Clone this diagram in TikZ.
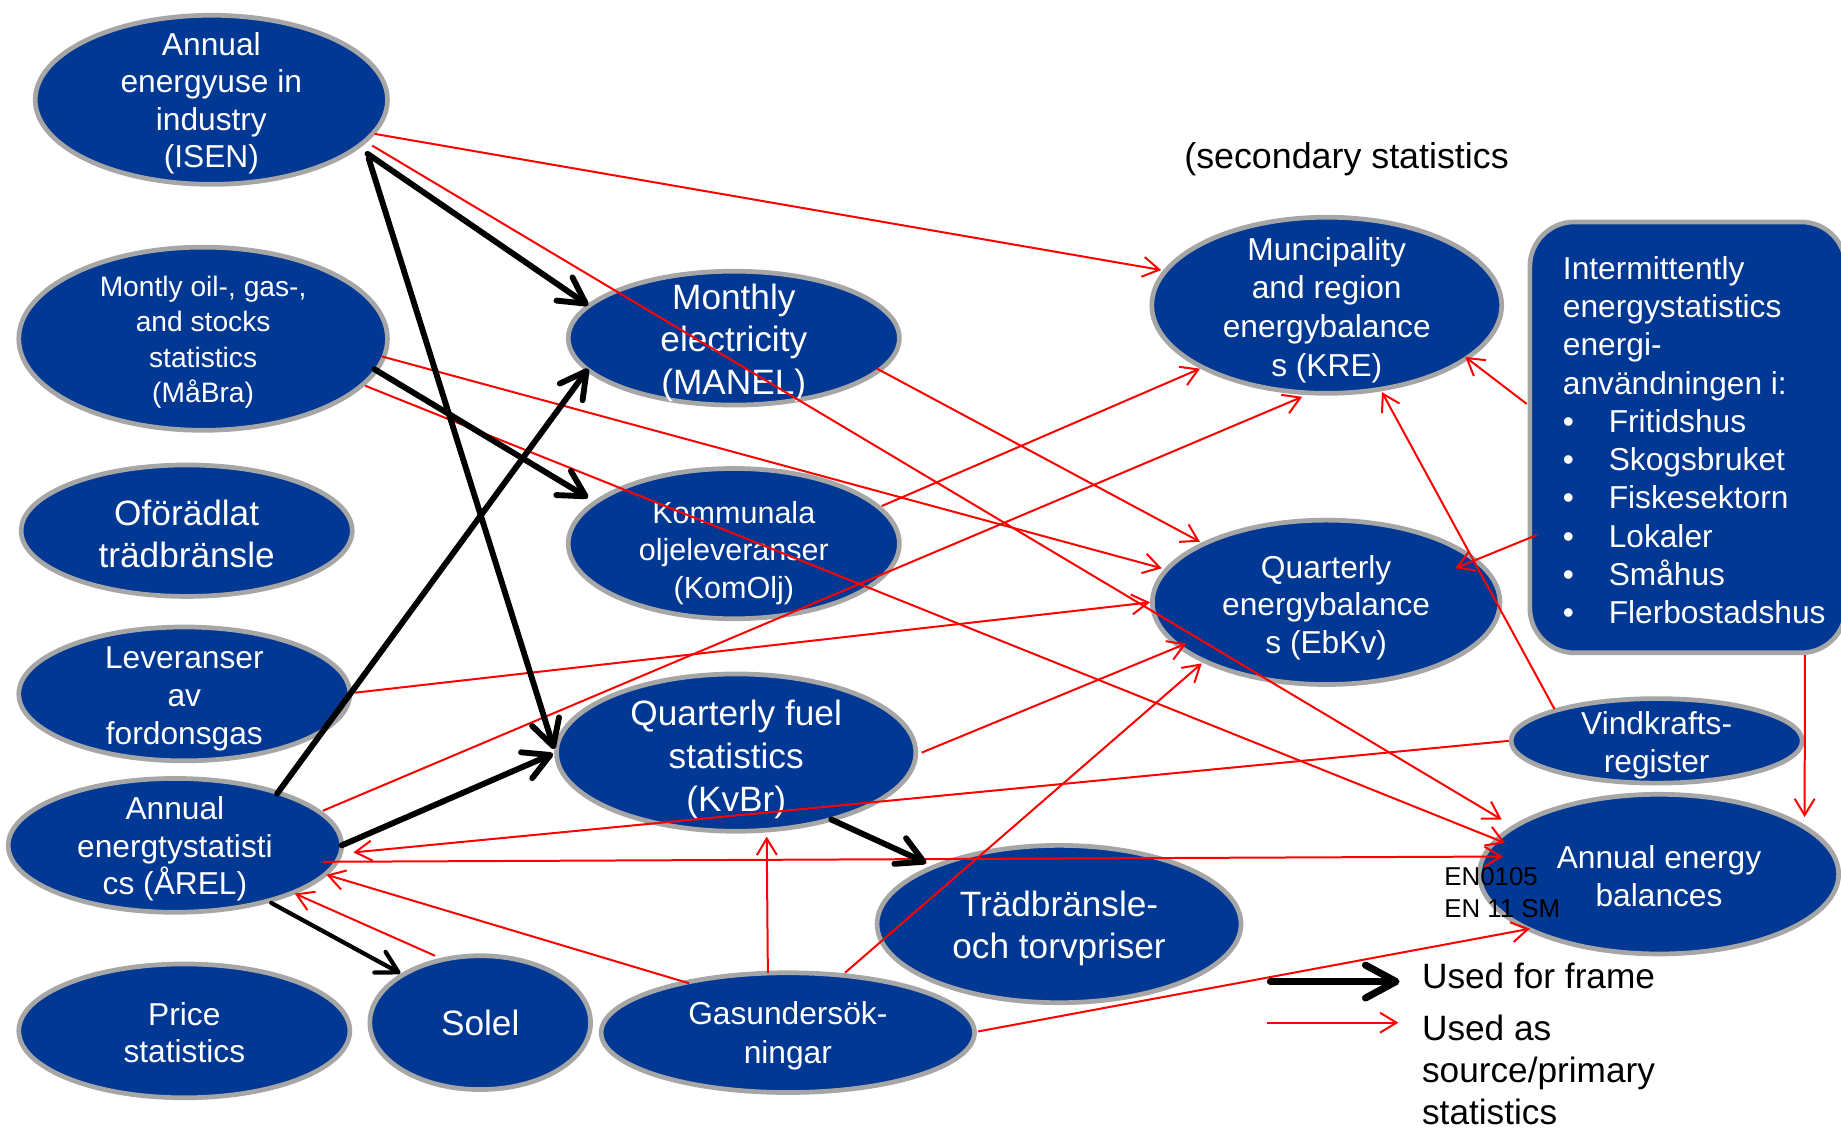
\documentclass[tikz,border=0pt]{standalone}
\usepackage{fontspec}
\setmainfont{Liberation Sans}
\usetikzlibrary{shapes.geometric,arrows.meta,calc}
\definecolor{nodeblue}{RGB}{0,56,147}
\definecolor{bordergray}{RGB}{166,166,166}
\newcommand{\myfs}[2]{\fontsize{#1}{#2}\selectfont}
\newcommand{\bul}{\makebox[39pt][l]{\textbullet}}
\begin{document}
\begin{tikzpicture}[x=1pt,y=-1pt,
  ell/.style={ellipse, draw=bordergray, line width=4pt, fill=nodeblue, inner sep=0pt},
  wt/.style={text=white, align=center, inner sep=0pt},
  lt/.style={text=black, inner sep=0pt},
  srcarr/.style={draw=red, line width=1.7pt, -{Straight Barb[length=14pt,width=17pt]}},
  frmarr/.style={draw=black, line width=5pt, line cap=round, -{Straight Barb[length=22pt,width=24pt,round]}},
  thinfrm/.style={draw=black, line width=3.6pt, line cap=round, -{Straight Barb[length=18pt,width=20pt,round]}},
  legfrm/.style={draw=black, line width=6pt, line cap=round, -{Straight Barb[length=26pt,width=28pt,round]}}
]
\fill[white] (0,0) rectangle (1568,961.6);
\useasboundingbox (0,0) rectangle (1568,961.6);

% ellipses
\node[ell, minimum width=300pt, minimum height=144pt] (isen) at (180,85) {};
\node[ell, minimum width=314pt, minimum height=156pt] (mabra) at (173,288.5) {};
\node[ell, minimum width=282pt, minimum height=112pt] (ofor) at (159,452) {};
\node[ell, minimum width=282pt, minimum height=114pt] (lev) at (157,591) {};
\node[ell, minimum width=284pt, minimum height=114pt] (arel) at (149,720) {};
\node[ell, minimum width=282pt, minimum height=114pt] (price) at (157,878) {};
\node[ell, minimum width=188pt, minimum height=114pt] (solel) at (409,871) {};
\node[ell, minimum width=318pt, minimum height=102pt] (gas) at (671,879.5) {};
\node[ell, minimum width=282pt, minimum height=114pt] (manel) at (625,288) {};
\node[ell, minimum width=282pt, minimum height=128pt] (komolj) at (625,463) {};
\node[ell, minimum width=306pt, minimum height=134pt] (kvbr) at (627,641) {};
\node[ell, minimum width=310pt, minimum height=134pt] (trad) at (902,787) {};
\node[ell, minimum width=298pt, minimum height=150pt] (kre) at (1130,260) {};
\node[ell, minimum width=296pt, minimum height=140pt] (ebkv) at (1129.5,513) {};
\node[ell, minimum width=248pt, minimum height=72pt] (vind) at (1411,631) {};
\node[ell, minimum width=306pt, minimum height=136pt] (aeb) at (1413,744.5) {};
\node[draw=bordergray, line width=4pt, fill=nodeblue, rounded corners=38pt, inner sep=0pt,
      minimum width=269pt, minimum height=367pt] (box) at (1437.5,372.5) {};

% texts in nodes
\node[wt, font=\myfs{27}{32}] (isen-t) at ($(isen)+(0,3)$) {Annual\\energyuse in\\industry\\(ISEN)};
\node[wt, font=\myfs{24}{30}] (mabra-t) at ($(mabra)+(0,3)$) {Montly oil-, gas-,\\and stocks\\statistics\\(MåBra)};
\node[wt, font=\myfs{30}{36}] (ofor-t) at ($(ofor)+(0,3)$) {Oförädlat\\trädbränsle};
\node[wt, font=\myfs{27}{32.5}] (lev-t) at ($(lev)+(0,4)$) {Leveranser\\av\\fordonsgas};
\node[wt, font=\myfs{27}{32}] (arel-t) at ($(arel)+(0,3)$) {Annual\\energtystatisti\\cs (ÅREL)};
\node[wt, font=\myfs{27}{32}] (price-t) at ($(price)+(0,1.5)$) {Price\\statistics};
\node[wt, font=\myfs{30}{36}] (solel-t) at (solel) {Solel};
\node[wt, font=\myfs{27}{33}] (gas-t) at ($(gas)+(0,3)$) {Gasundersök-\\ningar};
\node[wt, font=\myfs{30}{36}] (manel-t) at ($(manel)+(0,4)$) {Monthly\\electricity\\(MANEL)};
\node[wt, font=\myfs{26}{32}] (komolj-t) at ($(komolj)+(0,8)$) {Kommunala\\oljeleveranser\\(KomOlj)};
\node[wt, font=\myfs{30}{36.5}] (kvbr-t) at ($(kvbr)+(0,5.5)$) {Quarterly fuel\\statistics\\(KvBr)};
\node[wt, font=\myfs{30}{36}] (trad-t) at ($(trad)+(0,4)$) {Trädbränsle-\\och torvpriser};
\node[wt, font=\myfs{27}{33}] (kre-t) at ($(kre)+(0,4)$) {Muncipality\\and region\\energybalance\\s (KRE)};
\node[wt, font=\myfs{27}{32}] (ebkv-t) at ($(ebkv)+(0,4.5)$) {Quarterly\\energybalance\\s (EbKv)};
\node[wt, font=\myfs{27}{32}] (vind-t) at ($(vind)+(0,4)$) {Vindkrafts-\\register};
\node[wt, font=\myfs{27}{32}] (aeb-t) at ($(aeb)+(0,1.5)$) {Annual energy\\balances};
\node[wt, align=left, anchor=north west, font=\myfs{27}{32.6}] (box-t) at (1331,218)
  {Intermittently\\energystatistics\\energi-\\användningen i:\\\bul Fritidshus\\\bul Skogsbruket\\\bul Fiskesektorn\\\bul Lokaler\\\bul Småhus\\\bul Flerbostadshus};

% free texts
\node[lt, anchor=base west, font=\myfs{30.5}{36}] (sec) at (1008.5,143.5) {(secondary statistics};
\node[lt, anchor=north west, align=left, font=\myfs{22}{27}] (en) at (1230,739) {EN0105\\EN 11 SM};
\node[lt, anchor=base west, font=\myfs{30}{36}] (leg1) at (1211,841.8) {Used for frame};
\node[lt, anchor=north west, align=left, font=\myfs{30}{36}] (leg2) at (1211,864) {Used as\\source/primary\\statistics};

% legend arrows
\coordinate (lb1) at (1082,836);
\coordinate (lb2) at (1192,836);
\coordinate (lr1) at (1079,871);
\coordinate (lr2) at (1191,871);

% red arrows (source / primary statistics)
\draw[srcarr] ($(isen)+(139,29)$) -- ($(kre)+(-141,-30)$);
\draw[srcarr] ($(isen)+(137,39)$) -- ($(aeb)+(-134,-46.5)$);
\draw[srcarr] ($(mabra)+(152,15)$) -- ($(ebkv)+(-140,-29)$);
\draw[srcarr] ($(mabra)+(138,40)$) -- ($(aeb)+(-131,-26.5)$);
\draw[srcarr] ($(manel)+(122,26)$) -- ($(ebkv)+(-107.5,-51.6)$);
\draw[srcarr] ($(komolj)+(126,-32)$) -- ($(kre)+(-108,54)$);
\draw[srcarr] ($(lev)+(145,-1)$) -- ($(ebkv)+(-150,0)$);
\draw[srcarr] ($(arel)+(126,-29.5)$) -- ($(kre)+(-21,78)$);
\draw[srcarr] ($(arel)+(126,14)$) -- ($(aeb)+(-133,-15)$);
\draw[srcarr] ($(vind)+(-126,0)$) -- ($(arel)+(152,6)$);
\draw[srcarr] ($(gas)+(-84,-42)$) -- ($(arel)+(129,25)$);
\draw[srcarr] ($(solel)+(-38.5,-57)$) -- ($(arel)+(102,41)$);
\draw[srcarr] ($(gas)+(-17,-51)$) -- ($(kvbr)+(26,71.6)$);
\draw[srcarr] ($(gas)+(48.7,-51)$) -- ($(ebkv)+(-106,52)$);
\draw[srcarr] ($(gas)+(162,-1)$) -- ($(aeb)+(-110,46.5)$);
\draw[srcarr] ($(kvbr)+(158,0)$) -- ($(ebkv)+(-119,35)$);
\draw[srcarr] ($(box)+(-128.7,83.2)$) -- ($(ebkv)+(110,-29)$);
\draw[srcarr] ($(box)+(-137.2,-28.5)$) -- ($(kre)+(118,44)$);
\draw[srcarr] ($(vind)+(-87,-27)$) -- ($(kre)+(47,74)$);
\draw[srcarr] ($(box)+(99.8,185.4)$) -- ($(aeb)+(124,-48.6)$);
\draw[srcarr] (lr1) -- (lr2);

% black arrows (used for frame)
\draw[frmarr] ($(isen)+(133,46)$) -- ($(manel)+(-124,-28)$);
\draw[frmarr] ($(isen)+(134,50)$) -- ($(kvbr)+(-155,-3)$);
\draw[frmarr] ($(mabra)+(146,26)$) -- ($(komolj)+(-124,-39)$);
\draw[frmarr] ($(arel)+(87,-44)$) -- ($(manel)+(-124,26)$);
\draw[frmarr] ($(arel)+(142,0)$) -- ($(kvbr)+(-156,1)$);
\draw[thinfrm] ($(arel)+(82,49)$) -- ($(solel)+(-68,-42)$);
\draw[frmarr] ($(kvbr)+(81,57)$) -- ($(trad)+(-113,-52)$);
\draw[legfrm] (lb1) -- (lb2);
\end{tikzpicture}
\end{document}
